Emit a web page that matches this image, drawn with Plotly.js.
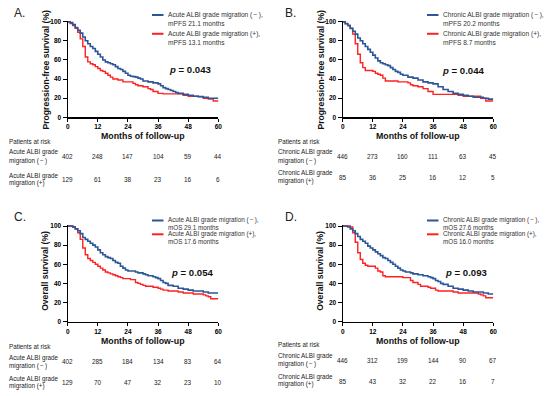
<!DOCTYPE html>
<html><head><meta charset="utf-8">
<script src="https://cdn.plot.ly/plotly-3.0.1.min.js"></script>
<style>html,body{margin:0;padding:0;background:#fff}</style>
</head><body><div id="chart" style="width:550px;height:396px"></div>
<script>
// ---------- data ----------
const xTicks = [0, 12, 24, 36, 48, 60];
const yTicks = [0, 20, 40, 60, 80, 100];

// Panel A: PFS, acute ALBI grade migration
const tA_neg = [0,1,2,3,4,5,6,7,8,9,10,11,12,13,14,15,16,17,18,19,20,21,22,23,24,25,26,27,28,29,30,31,32,33,34,35,36,37,38,39,40,41,42,43,44,45,46,47,48,50,52,54,56,58,60];
const sA_neg = [100,99,97,94,91,88,84,80,77,74,72,69,66,63,60,58,57,56,55,53,51,50,48,46,44,43,42.5,42,41,40,38,38,37,37,36,36,35,33,31,30,29,28,27,26,25,25,24,24,23,22,21.6,21,20,20,20];
const tA_pos = [0,1,2,3,4,5,6,7,8,9,10,11,12,13,14,15,16,17,18,20,22,24,26,27,28,30,32,33,34,36,38,44,46,48,52,54,56,58,60];
const sA_pos = [100,98,96,93,89,82,74,63,58,56,55,53,51,49,48,46,44,42,40,39,37,37,35.5,34,33,32,30,29,27,25,24.5,24.5,23,22,21.6,20,19,17,16.5];

// Panel B: PFS, chronic ALBI grade migration
const tB_neg = [0,1,2,3,4,5,6,7,8,9,10,11,12,13,14,15,16,17,18,19,20,21,22,23,24,26,28,30,32,34,36,38,40,42,44,46,48,50,52,54,56,58,60];
const sB_neg = [100,98,96,93,90,87,83,80,77,74,71,68,65,62,59,57,56,55,54,52,50,48,47,45,44,42,41,39,37,36,35,32,29,27,25,24,23,22,21,21,20,19,19];
const tB_pos = [0,1,2,3,4,5,6,7,8,9,10,12,13,14,15,16,17,20,22,24,26,27,28,30,32,34,36,44,46,48,54,55,57,60];
const sB_pos = [100,98,96,93,87,77,66,57,52,49,49,48,46,45,44,41,38,38,37,37,36,34,33,32,30,27,24,24,23,22,22,20,17,17];

// Panel C: OS, acute ALBI grade migration
const tC_neg = [0,1,2,3,4,5,6,7,8,9,10,11,12,13,14,15,16,17,18,19,20,21,22,23,24,26,27,28,30,31,32,34,35,36,37,38,39,40,42,44,46,48,50,52,54,56,58,60];
const sC_neg = [100,100,99,97,95,92,88,86,84,82,80,78,75,72,70,68,67,66,64,62,61,58,56,54,53,53,52,51,50,49,48,47,46,45,43,41,40,38,37,35,34,33,32,32,31,30,30,30];
const tC_pos = [0,2,3,4,5,6,7,8,9,10,11,12,13,14,15,16,17,18,19,20,21,22,24,25,26,27,28,29,30,31,32,34,36,37,38,40,42,44,46,48,50,52,54,55,56,57,60];
const sC_pos = [100,99,97,93,86,77,70,66,64,62,60,58,56,54,52,51,50,49,48,47,46,45,45,44,44,41,40,39,38,37,37,36,35,34,33,32,32,31,30,30,29,29,28,27,26,24,24];

// Panel D: OS, chronic ALBI grade migration
const tD_neg = [0,2,3,4,5,6,7,8,9,10,11,12,13,14,15,16,17,18,19,20,21,22,23,24,25,26,27,28,30,32,34,35,36,37,38,39,40,42,44,46,48,50,52,54,56,58,60];
const sD_neg = [100,99,97,95,92,89,86,84,82,79,77,75,73,71,69,67,66,64,62,60,58,56,54,53,52,52,51,50,49,48,47,46,45,43,42,40,39,37,35,34,33,32,31,31,30,29,29];
const tD_pos = [0,2,3,4,5,6,7,8,9,10,12,13,14,15,16,17,18,22,24,26,27,28,30,31,32,34,35,36,37,38,42,44,46,52,54,55,56,57,60];
const sD_pos = [100,100,99,93,83,72,65,61,59,58,58,56,53,52,48,47,47,47,46,46,43,41,39,37,37,36,35,35,33,32,32,31,30,30,29,28,27,25,25];

// Numbers at risk
const riskA_neg = [402, 248, 147, 104, 59, 44];
const riskA_pos = [129, 61, 38, 23, 16, 6];
const riskB_neg = [446, 273, 160, 111, 63, 45];
const riskB_pos = [85, 36, 25, 16, 12, 5];
const riskC_neg = [402, 285, 184, 134, 83, 64];
const riskC_pos = [129, 70, 47, 32, 23, 10];
const riskD_neg = [446, 312, 199, 144, 90, 67];
const riskD_pos = [85, 43, 32, 22, 16, 7];

// Texts
const panelLabels = ['A.', 'B.', 'C.', 'D.'];
const yTitles = ['Progression-free survival (%)', 'Progression-free survival (%)', 'Overall survival (%)', 'Overall survival (%)'];
const legendNeg = [
  ['Acute ALBI grade migration (\u2009\u2212\u2009),', 'mPFS 21.1 months'],
  ['Chronic ALBI grade migration (\u2009\u2212\u2009),', 'mPFS 20.2 months'],
  ['Acute ALBI grade migration (\u2009\u2212\u2009),', 'mOS 29.1 months'],
  ['Chronic ALBI grade migration (\u2009\u2212\u2009),', 'mOS 27.6 months']
];
const legendPos = [
  ['Acute ALBI grade migration (+),', 'mPFS 13.1 months'],
  ['Chronic ALBI grade migration (+),', 'mPFS 8.7 months'],
  ['Acute ALBI grade migration (+),', 'mOS 17.6 months'],
  ['Chronic ALBI grade migration (+),', 'mOS 16.0 months']
];
const pValues = ['0.043', '0.044', '0.054', '0.093'];
const riskLabelsNeg = [
  ['Acute ALBI grade', 'migration (\u2009\u2212\u2009)'],
  ['Chronic ALBI grade', 'migration (\u2009\u2212\u2009)'],
  ['Acute ALBI grade', 'migration (\u2009\u2212\u2009)'],
  ['Chronic ALBI grade', 'migration (\u2009\u2212\u2009)']
];
const riskLabelsPos = [
  ['Acute ALBI grade', 'migration (+)'],
  ['Chronic ALBI grade', 'migration (+)'],
  ['Acute ALBI grade', 'migration (+)'],
  ['Chronic ALBI grade', 'migration (+)']
];
const xTitle = 'Months of follow-up';
const riskTitle = 'Patients at risk';

// ---------- layout helpers ----------
const W = 550, H = 396;
const BLUE = '#2b5697', RED = '#ff2121';
const FONT = 'Arial, "Liberation Sans", Helvetica, sans-serif';
const px = x => x / W;
const py = y => 1 - y / H;

// panel geometry (pixels)
const panels = [
  {x0: 67.7, x1: 218.3, y0: 117.3, y100: 21.7, dx: 0, dy: 0},
  {x0: 342.7, x1: 493.3, y0: 117.3, y100: 21.7, dx: 275, dy: 0},
  {x0: 67.7, x1: 218.3, y0: 321.7, y100: 226.0, dx: 0, dy: 204.5},
  {x0: 342.7, x1: 493.3, y0: 321.7, y100: 226.0, dx: 275, dy: 204.5}
];

const curves = [
  [tA_neg, sA_neg, tA_pos, sA_pos],
  [tB_neg, sB_neg, tB_pos, sB_pos],
  [tC_neg, sC_neg, tC_pos, sC_pos],
  [tD_neg, sD_neg, tD_pos, sD_pos]
];
const risks = [
  [riskA_neg, riskA_pos], [riskB_neg, riskB_pos],
  [riskC_neg, riskC_pos], [riskD_neg, riskD_pos]
];

const traces = [];
const layout = {
  width: W, height: H,
  margin: {l: 0, r: 0, t: 0, b: 0},
  paper_bgcolor: '#fff', plot_bgcolor: '#fff',
  showlegend: false,
  font: {family: FONT, color: '#111'},
  annotations: [], shapes: []
};

function ann(text, x, y, opts) {
  return Object.assign({text: text, x: px(x), y: py(y), xref: 'paper', yref: 'paper',
    showarrow: false, xanchor: 'left', yanchor: 'middle',
    font: {family: FONT, size: 6.3, color: '#222'}}, opts || {});
}

panels.forEach((p, i) => {
  const n = i + 1;
  const xa = n === 1 ? 'xaxis' : 'xaxis' + n;
  const ya = n === 1 ? 'yaxis' : 'yaxis' + n;
  const xr = n === 1 ? 'x' : 'x' + n;
  const yr = n === 1 ? 'y' : 'y' + n;
  const yTop = 101;
  const pxPer = (p.y0 - p.y100) / 100;
  const topPix = p.y0 - yTop * pxPer;
  layout[xa] = {
    domain: [px(p.x0), px(p.x1)], range: [0, 60], anchor: yr,
    tickvals: xTicks, ticks: 'outside', ticklen: 3, tickwidth: 1, tickcolor: '#000',
    showline: true, linewidth: 1.2, linecolor: '#000',
    showgrid: false, zeroline: false, fixedrange: true,
    tickfont: {family: FONT, size: 6.5, color: '#000', weight: 'bold'}
  };
  layout[ya] = {
    domain: [py(p.y0), py(topPix)], range: [0, yTop], anchor: xr,
    tickvals: yTicks, ticks: 'outside', ticklen: 4, tickwidth: 1, tickcolor: '#000',
    showline: true, linewidth: 1.2, linecolor: '#000',
    showgrid: false, zeroline: false, fixedrange: true,
    tickfont: {family: FONT, size: 6.5, color: '#000', weight: 'bold'}
  };

  const c = curves[i];
  traces.push({x: c[2], y: c[3], xaxis: xr, yaxis: yr, type: 'scatter', mode: 'lines',
    line: {color: RED, width: 1.4, shape: 'hv'}, name: legendPos[i].join(' '), hoverinfo: 'skip'});
  traces.push({x: c[0], y: c[1], xaxis: xr, yaxis: yr, type: 'scatter', mode: 'lines',
    line: {color: BLUE, width: 1.6, shape: 'hv'}, name: legendNeg[i].join(' '), hoverinfo: 'skip'});

  const dx = p.dx, dy = p.dy;
  const A = layout.annotations;
  // panel letter
  A.push(ann(panelLabels[i], 12 + dx + (i % 2 ? -4 : 0), 13 + dy, {font: {family: FONT, size: 12, color: '#222'}}));
  // y title
  A.push(ann('<b>' + yTitles[i] + '</b>', 45 + dx, (p.y0 + p.y100) / 2 - (i > 1 ? 3 : 0),
    {textangle: -90, xanchor: 'center', font: {family: FONT, size: 8.6, color: '#111'}}));
  // x title
  A.push(ann('<b>' + xTitle + '</b>', (p.x0 + p.x1) / 2, 136 + (i > 1 ? 205 : 0),
    {xanchor: 'center', font: {family: FONT, size: 8.8, color: '#111'}}));
  // legend keys & text
  const top = i < 2;
  const ly = top ? 15 : 220.5;
  const ly2 = top ? 33.8 : 234.3;
  const gap1 = top ? 8.6 : 7.1;
  const gap2 = top ? 8.4 : 6.9;
  layout.shapes.push({type: 'line', xref: 'paper', yref: 'paper',
    x0: px(152 + dx), x1: px(163.5 + dx), y0: py(ly), y1: py(ly), line: {color: BLUE, width: 2}});
  layout.shapes.push({type: 'line', xref: 'paper', yref: 'paper',
    x0: px(152 + dx), x1: px(163.5 + dx), y0: py(ly2), y1: py(ly2), line: {color: RED, width: 2}});
  const lf = {family: FONT, size: top ? 6.6 : 6.3, color: '#333'};
  A.push(ann(legendNeg[i][0], 166 + dx, ly, {font: lf}));
  A.push(ann(legendNeg[i][1], 166 + dx, ly + gap1, {font: lf}));
  A.push(ann(legendPos[i][0], 166 + dx, ly2, {font: lf}));
  A.push(ann(legendPos[i][1], 166 + dx, ly2 + gap2, {font: lf}));
  // p-value
  const pcx = [189.5, 463, 192, 465.5][i];
  const pcy = [69.3, 70, 272.7, 272.7][i];
  A.push(ann('<b><i>p</i> = ' + pValues[i] + '</b>', pcx, pcy,
    {xanchor: 'center', font: {family: FONT, size: 9.6, color: '#111'}}));
  // risk table
  const rx = (i % 2 ? 276 : 7);
  const rt = [[141, 152.3, 160.7, 156.7, 176, 182.7, 179],
              [141, 152, 160.7, 156.7, 173.3, 181, 177],
              [346, 358.3, 365.7, 361.7, 379, 386, 382.3],
              [344.3, 356, 364.3, 360.7, 376.7, 384, 381.7]][i];
  A.push(ann(riskTitle, rx, rt[0]));
  A.push(ann(riskLabelsNeg[i][0], rx, rt[1]));
  A.push(ann(riskLabelsNeg[i][1], rx, rt[2]));
  A.push(ann(riskLabelsPos[i][0], rx, rt[4]));
  A.push(ann(riskLabelsPos[i][1], rx, rt[5]));
  const rf = {family: FONT, size: 6.4, color: '#222'};
  xTicks.forEach((t, k) => {
    A.push({text: String(risks[i][0][k]), x: t, y: py(rt[3]), xref: xr, yref: 'paper',
      showarrow: false, xanchor: 'center', yanchor: 'middle', font: rf});
    A.push({text: String(risks[i][1][k]), x: t, y: py(rt[6]), xref: xr, yref: 'paper',
      showarrow: false, xanchor: 'center', yanchor: 'middle', font: rf});
  });
});

Plotly.newPlot('chart', traces, layout, {staticPlot: true, displayModeBar: false});
</script>
</body></html>
